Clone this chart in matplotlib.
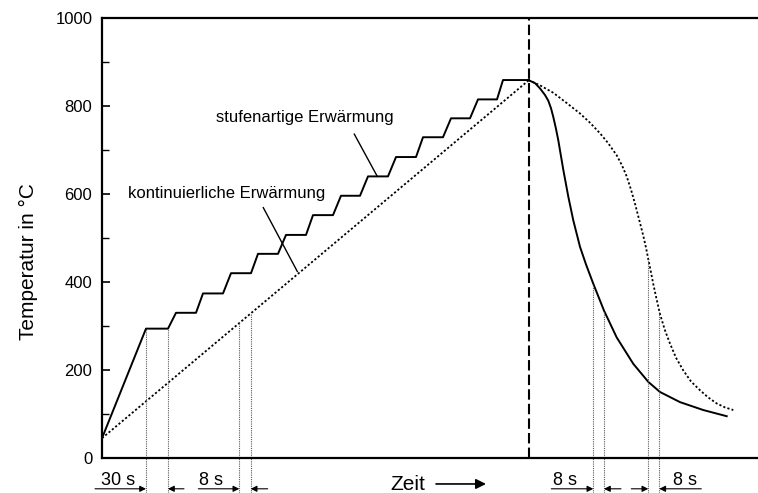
import numpy as np
import matplotlib
matplotlib.use("Agg")
import matplotlib.pyplot as plt

plt.rcParams['font.family'] = ['Liberation Sans', 'DejaVu Sans']

# time in arbitrary units (schematic chart), temperature in degC
t_start, temp_start = 0, 45
plateau_t0 = [44, 74, 101, 129, 156, 184, 211, 239, 266, 294, 321, 349, 376, 401]
plateau_t1 = [66, 94, 121, 149, 176, 204, 231, 258, 286, 314, 341, 368, 395, 427]
plateau_temp = [294, 330, 374, 420, 464, 507, 552, 596, 640, 684, 729, 772, 815, 859]

t_peak, temp_peak = 427, 859

# cooling after step heating (solid)
cool_solid_t = [426.3, 433, 438, 443, 446.3, 449, 451.3, 454, 456.3, 461.3, 466.3,
                471.3, 478, 484, 491.3, 502, 514.7, 531.3, 546.3, 558, 578, 601.3, 624.7]
cool_solid_temp = [859, 852, 840, 825, 812, 795, 775, 748, 722, 655, 594,
                   540, 480, 440, 396, 335, 274, 214, 173, 150, 127, 109, 95]
# cooling after continuous heating (dotted)
cool_dot_t = [426.3, 438, 451.3, 464, 478, 488, 498, 506, 514.7, 520, 524.7, 529,
              533, 537, 541.3, 544, 546.3, 549, 551.3, 554.5, 558, 563, 568, 574,
              581.3, 589, 598, 606, 614.7, 623, 631.3]
cool_dot_temp = [859, 847, 830, 808, 783, 762, 738, 716, 688, 665, 640, 610,
                 578, 543, 505, 478, 452, 422, 395, 362, 327, 290, 260, 228,
                 199, 174, 154, 138, 124, 115, 109]

# dimension marks: left line, right line, label
dim_t0 = [44, 137.3, 491.3, 546.3]
dim_t1 = [66, 148.7, 502, 557.3]
dim_labels = ["30 s", "8 s", "8 s", "8 s"]

# build step curve
step_t = [t_start]
step_temp = [temp_start]
for a, b, v in zip(plateau_t0, plateau_t1, plateau_temp):
    step_t += [a, b]
    step_temp += [v, v]

fig = plt.figure(figsize=(7.58, 4.93), dpi=100)
ax = fig.add_axes([102 / 758, 1 - 458 / 493, 656 / 758, 440 / 493])

dotted = (0, (1.2, 1.2))
ax.plot(step_t, step_temp, color='black', lw=1.4)
ax.plot([t_start, t_peak], [temp_start, temp_peak], color='black', lw=1.3, linestyle=dotted)
ax.plot(cool_solid_t, cool_solid_temp, color='black', lw=1.4)
ax.plot(cool_dot_t, cool_dot_temp, color='black', lw=1.3, linestyle=dotted)
ax.plot([t_peak, t_peak], [0, 1000], color='black', lw=1.5, dashes=(5, 2))

# vertical helper lines for the time marks, up to the curve they refer to
y_bot = -80
tops = [
    lambda x: plateau_temp[0],
    lambda x: np.interp(x, [t_start, t_peak], [temp_start, temp_peak]),
    lambda x: np.interp(x, cool_solid_t, cool_solid_temp),
    lambda x: np.interp(x, cool_dot_t, cool_dot_temp),
]
for a, b, top in zip(dim_t0, dim_t1, tops):
    for x in (a, b):
        ax.plot([x, x], [y_bot, top(x)], color='0.35', lw=0.8,
                linestyle=(0, (1, 1)), clip_on=False)

# arrows and labels below the axis
y_arr = -70
arrow_props = dict(arrowstyle='-|>', color='black', lw=0.8, mutation_scale=9,
                   shrinkA=0, shrinkB=0)
left_len = [51, 41, 42, 17]
right_len = [16, 17, 17, 42]
label_x = [16, 109, 463, 583]
for a, b, lab, ll, rl, lx in zip(dim_t0, dim_t1, dim_labels, left_len, right_len, label_x):
    ax.annotate("", xy=(a, y_arr), xytext=(a - ll, y_arr), arrowprops=arrow_props,
                annotation_clip=False)
    ax.annotate("", xy=(b, y_arr), xytext=(b + rl, y_arr), arrowprops=arrow_props,
                annotation_clip=False)
    ax.text(lx, -61, lab, ha='center', va='baseline', fontsize=13, clip_on=False)

ax.text(306, -72, "Zeit", ha='center', va='baseline', fontsize=15, clip_on=False)
ax.annotate("", xy=(384, -59), xytext=(334, -59), annotation_clip=False,
            arrowprops=dict(arrowstyle='-|>', color='black', lw=1.2, mutation_scale=15,
                            shrinkA=0, shrinkB=0))

# curve labels with leader lines
ax.text(203, 774, "stufenartige Erwärmung", ha='center', va='center', fontsize=12)
ax.plot([252.3, 275.3], [736, 640], color='black', lw=1.0)
ax.text(125, 602, "kontinuierliche Erwärmung", ha='center', va='center', fontsize=12)
ax.plot([161.3, 195.3], [569, 424], color='black', lw=1.0)

ax.set_xlim(0, 656)
ax.set_ylim(0, 1000)
ax.set_yticks([0, 200, 400, 600, 800, 1000])
ax.set_yticks([100, 300, 500, 700, 900], minor=True)
ax.set_xticks([])
ax.tick_params(axis='y', which='major', direction='in', length=6, width=1.2,
               labelsize=12, pad=7)
ax.tick_params(axis='y', which='minor', direction='in', length=5, width=1.0)
ax.spines['right'].set_visible(False)
for s in ('left', 'top', 'bottom'):
    ax.spines[s].set_linewidth(1.6)

fig.text(28 / 758, 1 - 262 / 493, "Temperatur in °C", rotation=90, ha='center',
         va='center', fontsize=15)

fig.savefig("out.png", dpi=100)
